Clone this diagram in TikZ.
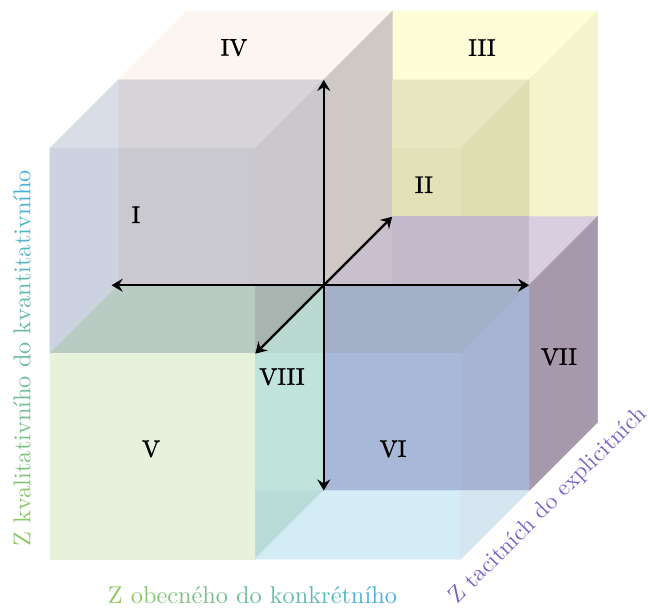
\documentclass[tikz,border=0pt]{standalone}
\usepackage{fontspec}
\newfontfamily\numfont{Latin Modern Roman}[FakeBold=1.2]
\usetikzlibrary{arrows.meta}
\definecolor{cPinkTop}{HTML}{FDF5F0}
\definecolor{cYelTop}{HTML}{FDFDD8}
\definecolor{cYelRight}{HTML}{F3F3CC}
\definecolor{cIVright}{HTML}{D0C8C4}
\definecolor{cItop}{HTML}{D8DCE6}
\definecolor{cGa}{HTML}{D6D4D9}
\definecolor{cGb}{HTML}{CBC8CD}
\definecolor{cGc}{HTML}{CBC9D0}
\definecolor{cIfront}{HTML}{CCD2DF}
\definecolor{cGGa}{HTML}{B8CCC4}
\definecolor{cGGb}{HTML}{A8B4B0}
\definecolor{cTEa}{HTML}{B8D8D0}
\definecolor{cYa}{HTML}{E6E6C0}
\definecolor{cYb}{HTML}{DEDEB3}
\definecolor{cYc}{HTML}{E2E2B8}
\definecolor{cPUa}{HTML}{C8C0CC}
\definecolor{cPUb}{HTML}{C2BACA}
\definecolor{cPUc}{HTML}{D8CEE0}
\definecolor{cPUd}{HTML}{A898AC}
\definecolor{cBLa}{HTML}{A4B0C8}
\definecolor{cBLb}{HTML}{A8B4D3}
\definecolor{cBLc}{HTML}{A8B8D8}
\definecolor{cGR}{HTML}{E6F2DC}
\definecolor{cTEb}{HTML}{C0E4DB}
\definecolor{cTEc}{HTML}{B8DCD8}
\definecolor{cLBa}{HTML}{D4ECF6}
\definecolor{cLBb}{HTML}{D4E5EF}
\definecolor{txGreen}{HTML}{8DC862}
\definecolor{txBlue}{HTML}{46B0DE}
\definecolor{txViol}{HTML}{7466C6}
\makeatletter
\newcount\gr@i
\newcount\gr@n
\def\gr@A{black}\def\gr@B{black}
\newcommand\gradset[3]{\global\gr@i=0 \global\gr@n=#3\relax\gdef\gr@A{#1}\gdef\gr@B{#2}}
\newcommand\gw[1]{\gw@#1\@nil}
\def\gw@#1{\ifx#1\@nil\else\gw@@{#1}\expandafter\gw@\fi}
\def\gw@@#1{\global\advance\gr@i\@ne
  \pgfmathtruncatemacro\gr@p{100-100*(\the\gr@i-1)/(\the\gr@n-1)}%
  \textcolor{\gr@A!\gr@p!\gr@B}{#1}}
\makeatother
\tikzset{
  face/.style={fill=#1,draw=#1,line width=0.25pt},
  axisarrow/.style={line width=0.95pt,draw=black,-{Stealth[length=4.6pt,width=5.4pt,inset=1.6pt]}},
  numlabel/.style={text=black,font=\numfont\fontsize{10}{12}\selectfont,inner sep=0pt},
  axislabel/.style={font=\fontsize{10.1}{12}\selectfont,inner sep=0pt},
  diaglabel/.style={font=\fontsize{9.7}{11}\selectfont,inner sep=0pt,text=txViol}
}
\begin{document}
\begin{tikzpicture}[x=1cm,y=1cm]
\useasboundingbox (-0.730,-0.745) rectangle (8.737,8.167);
\fill[white] (-0.730,-0.745) rectangle (8.737,8.167);
% top layer faces
\path[face=cPinkTop] (1,7) -- (2,8) -- (5,8) -- (4,7) -- cycle;
\path[face=cYelTop] (5,7) -- (5,8) -- (8,8) -- (7,7) -- cycle;
\path[face=cYelRight] (7,5) -- (8,5) -- (8,8) -- (7,7) -- cycle;
\path[face=cIVright] (4,4) -- (4,7) -- (5,8) -- (5,5) -- cycle;
\path[face=cItop] (0,6) -- (1,6) -- (1,7) -- cycle;
\path[face=cGa] (1,6) -- (1,7) -- (4,7) -- (3,6) -- cycle;
\path[face=cGc] (1,4) rectangle (3,6);
\path[face=cGb] (3,4) -- (3,6) -- (4,7) -- (4,4) -- cycle;
\path[face=cIfront] (0,3) -- (0,6) -- (1,6) -- (1,4) -- cycle;
\path[face=cGGa] (0,3) -- (3,3) -- (3,4) -- (1,4) -- cycle;
\path[face=cGGb] (3,3) -- (3,4) -- (4,4) -- cycle;
\path[face=cTEa] (3,3) -- (4,3) -- (4,4) -- cycle;
\path[face=cYa] (5,6) -- (5,7) -- (7,7) -- (6,6) -- cycle;
\path[face=cYb] (6,5) -- (7,5) -- (7,7) -- (6,6) -- cycle;
\path[face=cYc] (5,5) rectangle (6,6);
\path[face=cPUa] (4,4) -- (5,4) -- (5,5) -- cycle;
\path[face=cPUb] (5,4) rectangle (7,5);
\path[face=cPUc] (7,4) -- (7,5) -- (8,5) -- cycle;
\path[face=cPUd] (7,1) -- (7,4) -- (8,5) -- (8,2) -- cycle;
% bottom layer faces
\path[face=cBLa] (4,3) -- (4,4) -- (7,4) -- (6,3) -- cycle;
\path[face=cBLb] (6,1) -- (7,1) -- (7,4) -- (6,3) -- cycle;
\path[face=cBLc] (4,1) rectangle (6,3);
\path[face=cGR] (0,0) rectangle (3,3);
\path[face=cTEb] (3,1) rectangle (4,3);
\path[face=cTEc] (3,0) -- (3,1) -- (4,1) -- cycle;
\path[face=cLBa] (3,0) -- (6,0) -- (6,1) -- (4,1) -- cycle;
\path[face=cLBb] (6,0) -- (6,1) -- (7,1) -- cycle;
% axes
\coordinate (O) at (4,4);
\coordinate (N) at (4,7);
\coordinate (S) at (4,1);
\coordinate (W) at (0.9,4);
\coordinate (E) at (7,4);
\coordinate (NE) at (5,5);
\coordinate (SW) at (3,3);
\draw[axisarrow] (O) -- (N);
\draw[axisarrow] (O) -- (S);
\draw[axisarrow] (O) -- (W);
\draw[axisarrow] (O) -- (E);
\draw[axisarrow] (O) -- (NE);
\draw[axisarrow] (O) -- (SW);
% numerals
\node[numlabel] (n1) at (1.256,5.029) {I};
\node[numlabel] (n2) at (5.464,5.468) {II};
\node[numlabel] (n3) at (6.311,7.471) {III};
\node[numlabel] (n4) at (2.688,7.471) {IV};
\node[numlabel] (n5) at (1.476,1.608) {V};
\node[numlabel] (n6) at (5.011,1.608) {VI};
\node[numlabel] (n7) at (7.436,2.953) {VII};
\node[numlabel] (n8) at (3.389,2.661) {VIII};
% axis texts
\node[axislabel,rotate=90] (tq) at (-0.409,2.931) {\gradset{txGreen}{txBlue}{32}\gw{Z} \gw{kvalitativního} \gw{do} \gw{kvantitativního}};
\node[axislabel] (to) at (2.958,-0.534) {\gradset{txGreen}{txBlue}{22}\gw{Z} \gw{obecného} \gw{do} \gw{konkrétního}};
\node[diaglabel,rotate=45] (tt) at (7.283,0.775) {Z tacitních do explicitních};
\end{tikzpicture}
\end{document}
